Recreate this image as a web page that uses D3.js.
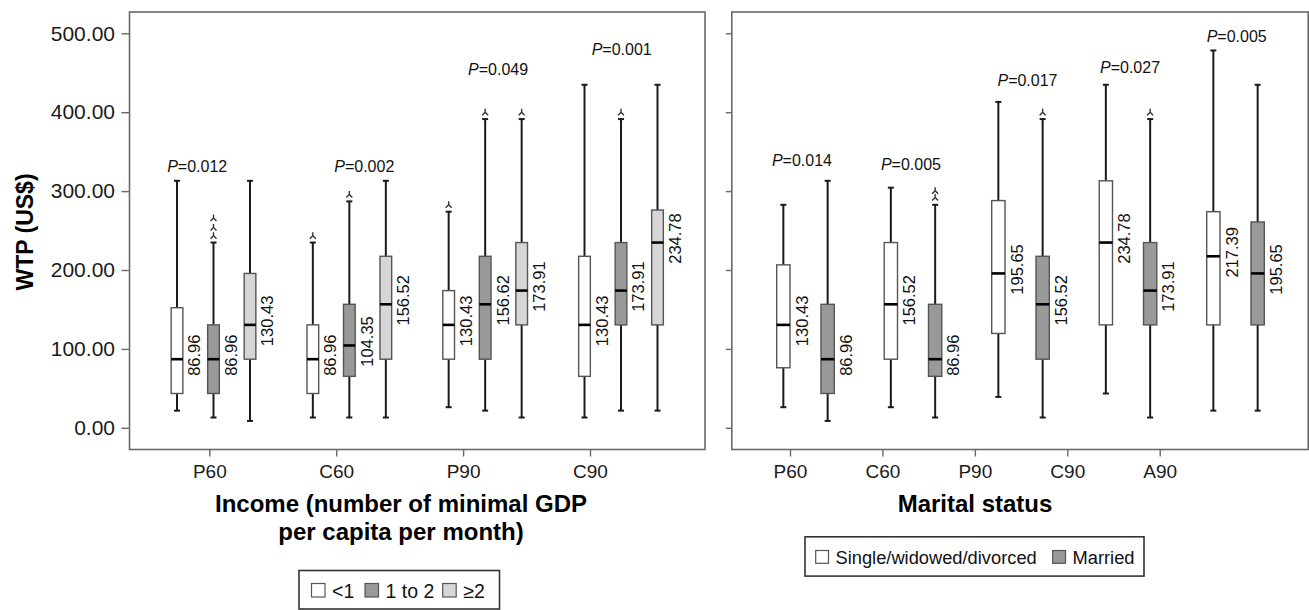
<!DOCTYPE html>
<html>
<head>
<meta charset="utf-8">
<script src="https://cdn.jsdelivr.net/npm/d3@7"></script>
<style>
  body { margin: 0; background: #fff; }
  svg { display: block; font-family: "Liberation Sans", Arial, sans-serif; }
</style>
</head>
<body>
<script>
// ---------------- DATA ----------------
// Each box: [lower whisker, Q1, median, Q3, upper whisker]
const incomeCategories = ["P60", "C60", "P90", "C90"];
const incomeSeries = ["<1", "1 to 2", "\u22652"];
const incomeLt1 = [[21.74, 43.48, 86.96, 152.17, 313.04], [13.04, 43.48, 86.96, 130.43, 234.78], [26.09, 86.96, 130.43, 173.91, 273.91], [13.04, 65.22, 130.43, 217.39, 434.78]];
const income1to2 = [[13.04, 43.48, 86.96, 130.43, 234.78], [13.04, 65.22, 104.35, 156.52, 286.96], [21.74, 86.96, 156.52, 217.39, 391.30], [21.74, 130.43, 173.91, 234.78, 391.30]];
const incomeGe2 = [[8.70, 86.96, 130.43, 195.65, 313.04], [13.04, 86.96, 156.52, 217.39, 313.04], [13.04, 130.43, 173.91, 234.78, 391.30], [21.74, 130.43, 234.78, 276.0, 434.78]];
const incomeLt1Outliers = [[], [243.48], [282.61], []];
const income1to2Outliers = [[243.5, 254, 266], [295.65], [400], [400]];
const incomeGe2Outliers = [[], [], [400], []];
const incomeLt1Labels = ["86.96", "86.96", "130.43", "130.43"];
const income1to2Labels = ["86.96", "104.35", "156.62", "173.91"];
const incomeGe2Labels = ["130.43", "156.52", "173.91", "234.78"];
const incomePValues = ["0.012", "0.002", "0.049", "0.001"];
// annotation anchors in data units: [category index, WTP]
const incomePAnchor = [[-0.12, 324.8], [1.11, 324.8], [2.095, 447.1], [3.005, 472.5]];

const maritalCategories = ["P60", "C60", "P90", "C90", "A90"];
const maritalSeries = ["Single/widowed/divorced", "Married"];
const maritalSingle = [[26.09, 76.09, 130.43, 206.52, 282.61], [26.09, 86.96, 156.52, 234.78, 304.35], [39.13, 119.57, 195.65, 288.0, 413.04], [43.48, 130.43, 234.78, 313.04, 434.78], [21.74, 130.43, 217.39, 273.91, 478.26]];
const maritalMarried = [[8.70, 43.48, 86.96, 156.52, 313.04], [13.04, 65.22, 86.96, 156.52, 282.61], [13.04, 86.96, 156.52, 217.39, 391.30], [13.04, 130.43, 173.91, 234.78, 391.30], [21.74, 130.43, 195.65, 260.87, 434.78]];
const maritalSingleOutliers = [[], [], [], [], []];
const maritalMarriedOutliers = [[], [292, 300.5], [400], [400], []];
const maritalSingleLabels = ["130.43", "156.52", "195.65", "234.78", "217.39"];
const maritalMarriedLabels = ["86.96", "86.96", "156.52", "173.91", "195.65"];
const maritalPValues = ["0.014", "0.005", "0.017", "0.027", "0.005"];
const maritalPAnchor = [[-0.033, 331.8], [0.981, 326.7], [2.065, 433.2], [3.019, 449.3], [4.011, 489.4]];

const yTicks = [0, 100, 200, 300, 400, 500];

// ---------------- DRAW ----------------
const W = 1309, H = 610;
const svg = d3.select("body").append("svg").attr("width", W).attr("height", H);
const y = d3.scaleLinear().domain([0, 500]).range([427.8, 33.3]);
const frameTop = 12, frameBottom = 449.5;

function drawPanel(cfg) {
  const g = svg.append("g");
  // frame
  g.append("rect")
    .attr("x", cfg.frame[0]).attr("y", frameTop)
    .attr("width", cfg.frame[1] - cfg.frame[0]).attr("height", frameBottom - frameTop)
    .attr("fill", "none").attr("stroke", "#6a6a6a").attr("stroke-width", 1.6);

  // y axis
  const ya = g.append("g").attr("transform", `translate(${cfg.frame[0]},0)`)
    .call(d3.axisLeft(y).tickValues(yTicks).tickSize(cfg.yTickSize).tickPadding(6.5)
      .tickFormat(cfg.yLabels ? d3.format(".2f") : () => ""));
  ya.select(".domain").remove();
  ya.selectAll(".tick line").attr("stroke", "#6a6a6a").attr("stroke-width", 1.4);
  ya.selectAll(".tick text").attr("font-size", 21).attr("fill", "#1a1a1a")
    .attr("font-family", "Liberation Sans, Arial, sans-serif");

  // x axis (category ticks)
  const xAxisScale = d3.scalePoint().domain(cfg.categories).range(cfg.tickRange);
  const xa = g.append("g").attr("transform", `translate(0,${frameBottom})`)
    .call(d3.axisBottom(xAxisScale).tickSize(7).tickPadding(8));
  xa.select(".domain").remove();
  xa.selectAll(".tick line").attr("stroke", "#6a6a6a").attr("stroke-width", 1.4);
  xa.selectAll(".tick text").attr("font-size", 19).attr("fill", "#1a1a1a")
    .attr("font-family", "Liberation Sans, Arial, sans-serif");

  // box positions
  const xGroup = d3.scaleLinear().domain([0, cfg.categories.length - 1]).range(cfg.groupRange);
  const xSub = d3.scaleBand().domain(cfg.series).range(cfg.subRange).padding(0);
  const bw = cfg.boxWidth;

  cfg.series.forEach((s, si) => {
    const stats = cfg.stats[si];
    stats.forEach((st, ci) => {
      const cx = xGroup(ci) + xSub(s) + xSub.bandwidth() / 2;
      const [lo, q1, med, q3, hi] = st;
      const bg = g.append("g");
      // whiskers
      bg.append("line").attr("x1", cx).attr("x2", cx).attr("y1", y(hi)).attr("y2", y(q3))
        .attr("stroke", "#1a1a1a").attr("stroke-width", 2);
      bg.append("line").attr("x1", cx).attr("x2", cx).attr("y1", y(q1)).attr("y2", y(lo))
        .attr("stroke", "#1a1a1a").attr("stroke-width", 2);
      [lo, hi].forEach(v => {
        bg.append("line").attr("x1", cx - 3).attr("x2", cx + 3).attr("y1", y(v)).attr("y2", y(v))
          .attr("stroke", "#1a1a1a").attr("stroke-width", 2);
      });
      // outliers
      cfg.outliers[si][ci].forEach(v => {
        bg.append("path")
          .attr("d", `M${cx},${y(v) - 3.5}L${cx},${y(v)}M${cx - 3},${y(v) + 3}L${cx},${y(v)}L${cx + 3},${y(v) + 3}`)
          .attr("fill", "none").attr("stroke", "#333").attr("stroke-width", 1.4);
      });
      // box
      bg.append("rect").attr("x", cx - bw / 2).attr("y", y(q3))
        .attr("width", bw).attr("height", y(q1) - y(q3))
        .attr("fill", cfg.fills[si]).attr("stroke", "#555").attr("stroke-width", 1.4);
      // median
      bg.append("line").attr("x1", cx - bw / 2).attr("x2", cx + bw / 2).attr("y1", y(med)).attr("y2", y(med))
        .attr("stroke", "#000").attr("stroke-width", 2.6);
      // median label
      bg.append("text")
        .attr("transform", `translate(${cx + bw / 2 + cfg.labelGap},${y(med) - 4}) rotate(-90)`)
        .attr("text-anchor", "middle").attr("font-size", 16.5).attr("fill", "#111")
        .text(cfg.labels[si][ci]);
    });
  });

  // p-values
  cfg.pValues.forEach((p, i) => {
    const t = g.append("text")
      .attr("x", xGroup(cfg.pAnchor[i][0])).attr("y", y(cfg.pAnchor[i][1]))
      .attr("text-anchor", "middle").attr("font-size", 16).attr("fill", "#111");
    t.append("tspan").attr("font-style", "italic").text("P");
    t.append("tspan").text("=" + p);
  });
}

drawPanel({
  frame: [129.5, 705],
  yTickSize: 8, yLabels: true,
  categories: incomeCategories, series: incomeSeries,
  tickRange: [209.3, 590],
  groupRange: [213.5, 621],
  subRange: [-54.75, 54.75],
  boxWidth: 11.7,
  labelGap: 17.5,
  fills: ["#ffffff", "#999999", "#d6d6d6"],
  stats: [incomeLt1, income1to2, incomeGe2],
  outliers: [incomeLt1Outliers, income1to2Outliers, incomeGe2Outliers],
  labels: [incomeLt1Labels, income1to2Labels, incomeGe2Labels],
  pValues: incomePValues, pAnchor: incomePAnchor
});

drawPanel({
  frame: [731.8, 1308.2],
  yTickSize: 6, yLabels: false,
  categories: maritalCategories, series: maritalSeries,
  tickRange: [790, 1159.7],
  groupRange: [805.5, 1235.5],
  subRange: [-44.3, 44.3],
  boxWidth: 13.3,
  labelGap: 17.5,
  fills: ["#ffffff", "#999999"],
  stats: [maritalSingle, maritalMarried],
  outliers: [maritalSingleOutliers, maritalMarriedOutliers],
  labels: [maritalSingleLabels, maritalMarriedLabels],
  pValues: maritalPValues, pAnchor: maritalPAnchor
});

// axis titles
svg.append("text").attr("transform", "translate(33,232) rotate(-90)")
  .attr("text-anchor", "middle").attr("font-size", 23).attr("font-weight", "bold").attr("fill", "#000")
  .text("WTP (US$)");
svg.append("text").attr("x", 401).attr("y", 511.5)
  .attr("text-anchor", "middle").attr("font-size", 24).attr("font-weight", "bold").attr("fill", "#000")
  .text("Income (number of minimal GDP");
svg.append("text").attr("x", 401).attr("y", 539.5)
  .attr("text-anchor", "middle").attr("font-size", 24).attr("font-weight", "bold").attr("fill", "#000")
  .text("per capita per month)");
svg.append("text").attr("x", 975).attr("y", 511.5)
  .attr("text-anchor", "middle").attr("font-size", 24).attr("font-weight", "bold").attr("fill", "#000")
  .text("Marital status");

// legends
function legend(cfg) {
  const g = svg.append("g");
  g.append("rect").attr("x", cfg.box[0]).attr("y", cfg.box[1]).attr("width", cfg.box[2]).attr("height", cfg.box[3])
    .attr("fill", "#fff").attr("stroke", "#333").attr("stroke-width", 1.6);
  cfg.items.forEach((name, i) => {
    const x = cfg.xs[i];
    g.append("rect").attr("x", x).attr("y", cfg.sqY).attr("width", cfg.sq).attr("height", cfg.sq)
      .attr("fill", cfg.fills[i]).attr("stroke", "#555").attr("stroke-width", 1.2);
    g.append("text").attr("x", x + cfg.sq + 7).attr("y", cfg.textY)
      .attr("font-size", cfg.fontSize).attr("fill", "#111").text(name);
  });
}
legend({
  box: [299, 570.5, 200.5, 38.5],
  items: incomeSeries, fills: ["#ffffff", "#999999", "#d6d6d6"],
  xs: [311.5, 365, 442.7], sq: 13.5, sqY: 583.5, textY: 597.5, fontSize: 19.5
});
legend({
  box: [805, 536.8, 339, 39.3],
  items: maritalSeries, fills: ["#ffffff", "#999999"],
  xs: [815.7, 1052.7], sq: 12.8, sqY: 550.5, textY: 564, fontSize: 18.3
});
</script>
</body>
</html>
